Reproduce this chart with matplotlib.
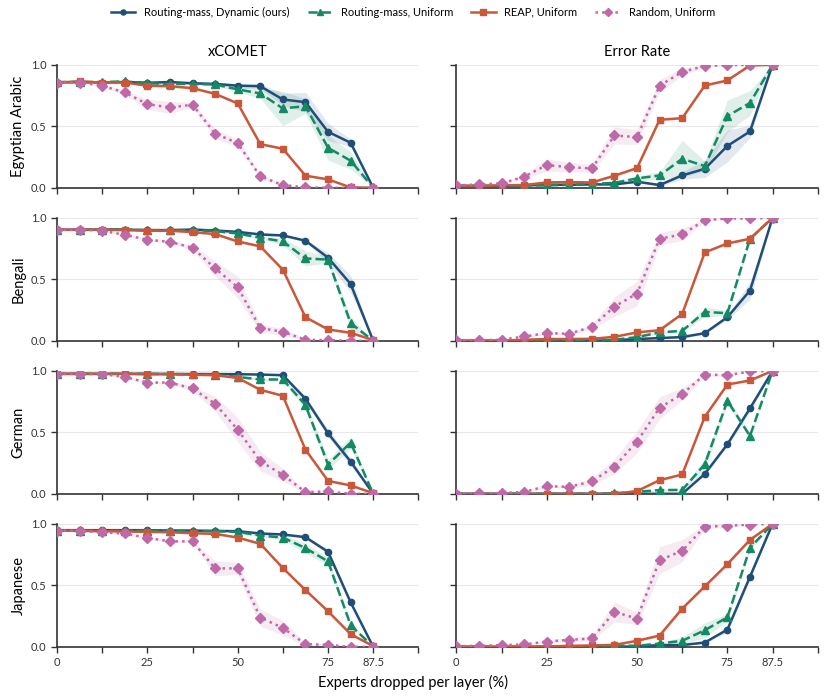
import numpy as np
import matplotlib
matplotlib.use('Agg')
import matplotlib.pyplot as plt

plt.rcParams['font.family'] = ['Lato', 'DejaVu Sans']

# experts dropped per layer (%)
x = np.arange(15) * 6.25

methods = ['Routing-mass, Dynamic (ours)', 'Routing-mass, Uniform', 'REAP, Uniform', 'Random, Uniform']
languages = ['Egyptian Arabic', 'Bengali', 'German', 'Japanese']
metrics = ['xCOMET', 'Error Rate']

# ---- Egyptian Arabic ----
ar_xcomet = [
   [0.856, 0.86, 0.856, 0.86, 0.854, 0.86, 0.85, 0.845, 0.83, 0.826, 0.718, 0.696, 0.455, 0.366, 0.0],
   [0.86, 0.86, 0.86, 0.865, 0.85, 0.845, 0.845, 0.84, 0.80, 0.767, 0.645, 0.664, 0.325, 0.22, 0.0],
   [0.856, 0.865, 0.856, 0.856, 0.83, 0.826, 0.81, 0.764, 0.686, 0.355, 0.317, 0.098, 0.068, 0.003, 0.0],
   [0.856, 0.856, 0.83, 0.775, 0.68, 0.653, 0.675, 0.44, 0.363, 0.092, 0.022, 0.003, 0.0, 0.0, 0.0],
]
ar_xcomet_sd = [
   [0, 0, 0, 0, 0, 0, 0.01, 0.01, 0.02, 0.02, 0.05, 0.08, 0.07, 0.03, 0],
   [0, 0, 0, 0.01, 0.01, 0.01, 0.01, 0.01, 0.02, 0.04, 0.14, 0.06, 0.1, 0.07, 0],
   [0, 0.01, 0, 0, 0.01, 0.01, 0.01, 0.01, 0.01, 0.01, 0.01, 0.01, 0.01, 0, 0],
   [0, 0, 0.01, 0.02, 0.04, 0.05, 0.02, 0.04, 0.03, 0.02, 0.01, 0, 0, 0, 0],
]
ar_err = [
   [0.016, 0.014, 0.014, 0.019, 0.024, 0.024, 0.027, 0.027, 0.049, 0.022, 0.10, 0.154, 0.34, 0.458, 1.0],
   [0.016, 0.014, 0.016, 0.019, 0.019, 0.024, 0.03, 0.04, 0.076, 0.10, 0.236, 0.176, 0.583, 0.69, 1.0],
   [0.016, 0.014, 0.02, 0.022, 0.043, 0.046, 0.043, 0.098, 0.16, 0.553, 0.566, 0.832, 0.873, 0.995, 1.0],
   [0.019, 0.027, 0.035, 0.09, 0.184, 0.168, 0.157, 0.425, 0.412, 0.83, 0.943, 0.99, 0.997, 1.0, 1.0],
]
ar_err_sd = [
   [0, 0, 0, 0, 0, 0, 0, 0, 0.01, 0.01, 0.03, 0.07, 0.13, 0.05, 0],
   [0, 0, 0, 0, 0, 0, 0.01, 0.01, 0.02, 0.03, 0.15, 0.04, 0.13, 0.1, 0],
   [0, 0, 0, 0, 0.01, 0.01, 0.01, 0.01, 0.01, 0.01, 0.01, 0.01, 0.01, 0, 0],
   [0, 0.01, 0.01, 0.02, 0.05, 0.04, 0.03, 0.07, 0.06, 0.05, 0.03, 0.01, 0, 0, 0],
]

# ---- Bengali ----
bn_xcomet = [
   [0.903, 0.903, 0.905, 0.905, 0.90, 0.90, 0.905, 0.897, 0.886, 0.865, 0.857, 0.814, 0.676, 0.462, 0.0],
   [0.903, 0.903, 0.905, 0.903, 0.90, 0.90, 0.90, 0.892, 0.873, 0.838, 0.808, 0.67, 0.66, 0.143, 0.0],
   [0.903, 0.903, 0.903, 0.90, 0.895, 0.895, 0.884, 0.868, 0.808, 0.768, 0.578, 0.192, 0.092, 0.065, 0.005],
   [0.903, 0.903, 0.895, 0.862, 0.822, 0.805, 0.757, 0.589, 0.435, 0.103, 0.073, 0.008, 0.005, 0.0, 0.0],
]
bn_xcomet_sd = [
   [0, 0, 0, 0, 0, 0, 0, 0, 0.01, 0.01, 0.01, 0.01, 0.04, 0.07, 0],
   [0, 0, 0, 0, 0, 0, 0, 0.01, 0.01, 0.01, 0.03, 0.06, 0.03, 0.05, 0],
   [0, 0, 0, 0, 0, 0, 0.01, 0.01, 0.01, 0.01, 0.01, 0.01, 0.01, 0.01, 0],
   [0, 0, 0, 0.01, 0.01, 0.01, 0.02, 0.06, 0.09, 0.03, 0.03, 0.01, 0, 0, 0],
]
bn_err = [
   [0.0, 0.0, 0.0, 0.0, 0.0, 0.0, 0.0, 0.005, 0.014, 0.022, 0.03, 0.062, 0.192, 0.408, 1.0],
   [0.0, 0.0, 0.0, 0.0, 0.0, 0.0, 0.002, 0.008, 0.03, 0.068, 0.081, 0.235, 0.224, 0.83, 1.0],
   [0.0, 0.0, 0.0, 0.008, 0.014, 0.014, 0.016, 0.032, 0.068, 0.086, 0.219, 0.719, 0.792, 0.83, 1.0],
   [0.005, 0.005, 0.008, 0.035, 0.062, 0.057, 0.114, 0.278, 0.384, 0.83, 0.865, 0.981, 0.995, 0.995, 1.0],
]
bn_err_sd = [
   [0, 0, 0, 0, 0, 0, 0, 0, 0, 0.01, 0.01, 0.01, 0.02, 0.07, 0],
   [0, 0, 0, 0, 0, 0, 0, 0, 0.01, 0.01, 0.01, 0.04, 0.02, 0.02, 0],
   [0, 0, 0, 0, 0, 0, 0, 0, 0.01, 0.01, 0.01, 0.01, 0.01, 0.01, 0],
   [0, 0, 0, 0.01, 0.01, 0.01, 0.02, 0.08, 0.1, 0.05, 0.05, 0.01, 0, 0, 0],
]

# ---- German ----
de_xcomet = [
   [0.976, 0.976, 0.976, 0.976, 0.976, 0.975, 0.974, 0.974, 0.973, 0.97, 0.965, 0.773, 0.492, 0.262, 0.0],
   [0.976, 0.976, 0.976, 0.976, 0.975, 0.974, 0.972, 0.968, 0.951, 0.93, 0.93, 0.722, 0.238, 0.416, 0.0],
   [0.976, 0.976, 0.976, 0.976, 0.973, 0.973, 0.968, 0.965, 0.943, 0.846, 0.797, 0.359, 0.105, 0.068, 0.005],
   [0.976, 0.976, 0.973, 0.951, 0.905, 0.905, 0.857, 0.732, 0.522, 0.265, 0.154, 0.014, 0.019, 0.0, 0.0],
]
de_xcomet_sd = [
   [0, 0, 0, 0, 0, 0, 0, 0, 0, 0, 0.01, 0.02, 0.03, 0.03, 0],
   [0, 0, 0, 0, 0, 0, 0, 0, 0.01, 0.01, 0.01, 0.04, 0.04, 0.05, 0],
   [0, 0, 0, 0, 0, 0, 0, 0.01, 0.01, 0.01, 0.01, 0.01, 0.01, 0.01, 0],
   [0, 0, 0, 0.01, 0.01, 0.01, 0.02, 0.06, 0.1, 0.08, 0.05, 0.01, 0.01, 0, 0],
]
de_err = [
   [0.0, 0.0, 0.0, 0.0, 0.0, 0.0, 0.0, 0.0, 0.0, 0.0, 0.0, 0.162, 0.403, 0.695, 1.0],
   [0.0, 0.0, 0.0, 0.0, 0.0, 0.0, 0.0, 0.005, 0.016, 0.03, 0.032, 0.24, 0.757, 0.47, 1.0],
   [0.0, 0.0, 0.0, 0.0, 0.0, 0.0, 0.0, 0.0, 0.022, 0.111, 0.157, 0.627, 0.889, 0.922, 1.0],
   [0.0, 0.005, 0.005, 0.016, 0.062, 0.057, 0.10, 0.222, 0.424, 0.70, 0.811, 0.97, 0.965, 0.995, 1.0],
]
de_err_sd = [
   [0, 0, 0, 0, 0, 0, 0, 0, 0, 0, 0, 0.01, 0.02, 0.03, 0],
   [0, 0, 0, 0, 0, 0, 0, 0, 0, 0.01, 0.01, 0.05, 0.03, 0.02, 0],
   [0, 0, 0, 0, 0, 0, 0, 0, 0.01, 0.01, 0.01, 0.01, 0.01, 0.01, 0],
   [0, 0, 0, 0.01, 0.01, 0.01, 0.03, 0.06, 0.09, 0.09, 0.05, 0.01, 0.01, 0, 0],
]

# ---- Japanese ----
ja_xcomet = [
   [0.949, 0.949, 0.949, 0.949, 0.949, 0.946, 0.946, 0.943, 0.941, 0.922, 0.914, 0.892, 0.773, 0.362, 0.0],
   [0.946, 0.946, 0.946, 0.946, 0.945, 0.944, 0.942, 0.94, 0.935, 0.905, 0.889, 0.803, 0.695, 0.176, 0.0],
   [0.946, 0.943, 0.941, 0.938, 0.935, 0.932, 0.924, 0.919, 0.889, 0.838, 0.641, 0.462, 0.289, 0.103, 0.005],
   [0.946, 0.943, 0.932, 0.922, 0.886, 0.859, 0.857, 0.638, 0.638, 0.238, 0.154, 0.022, 0.016, 0.0, 0.0],
]
ja_xcomet_sd = [
   [0, 0, 0, 0, 0, 0, 0, 0, 0, 0.01, 0.01, 0.01, 0.02, 0.02, 0],
   [0, 0, 0, 0, 0, 0, 0, 0, 0.01, 0.01, 0.02, 0.04, 0.03, 0.02, 0],
   [0, 0, 0, 0, 0, 0, 0, 0.01, 0.01, 0.01, 0.01, 0.01, 0.01, 0.01, 0],
   [0, 0, 0.01, 0.01, 0.01, 0.01, 0.01, 0.06, 0.05, 0.07, 0.06, 0.01, 0.01, 0, 0],
]
ja_err = [
   [0.0, 0.0, 0.0, 0.0, 0.0, 0.0, 0.0, 0.0, 0.003, 0.014, 0.014, 0.035, 0.14, 0.57, 1.0],
   [0.0, 0.0, 0.0, 0.0, 0.0, 0.0, 0.0, 0.011, 0.008, 0.027, 0.049, 0.135, 0.24, 0.805, 1.0],
   [0.0, 0.0, 0.0, 0.0, 0.003, 0.008, 0.011, 0.016, 0.049, 0.092, 0.311, 0.492, 0.673, 0.87, 1.0],
   [0.005, 0.008, 0.014, 0.019, 0.043, 0.057, 0.068, 0.284, 0.23, 0.705, 0.781, 0.978, 0.984, 0.995, 1.0],
]
ja_err_sd = [
   [0, 0, 0, 0, 0, 0, 0, 0, 0, 0, 0, 0.01, 0.02, 0.02, 0],
   [0, 0, 0, 0, 0, 0, 0, 0, 0.01, 0.01, 0.03, 0.06, 0.03, 0.02, 0],
   [0, 0, 0, 0, 0, 0, 0, 0.01, 0.01, 0.01, 0.01, 0.01, 0.01, 0.01, 0],
   [0, 0, 0.01, 0.01, 0.01, 0.02, 0.02, 0.08, 0.05, 0.11, 0.09, 0.02, 0.01, 0, 0],
]

panels = [
   [(ar_xcomet, ar_xcomet_sd), (ar_err, ar_err_sd)],
   [(bn_xcomet, bn_xcomet_sd), (bn_err, bn_err_sd)],
   [(de_xcomet, de_xcomet_sd), (de_err, de_err_sd)],
   [(ja_xcomet, ja_xcomet_sd), (ja_err, ja_err_sd)],
]

colors = ['#1f4e79', '#138a63', '#c9583a', '#bf69a8']
styles = ['-', '--', '-', ':']
markers = ['o', '^', 's', 'D']
msizes = [4.5, 5.5, 5, 5]

fig, axes = plt.subplots(4, 2, figsize=(8.26, 6.97), dpi=100, sharey=True)
fig.subplots_adjust(left=0.069, right=0.990, top=0.907, bottom=0.072, hspace=0.245, wspace=0.105)

for r in range(4):
   for c in range(2):
      ax = axes[r, c]
      vals, sds = panels[r][c]
      for m in range(4):
         y = np.array(vals[m])
         sd = np.array(sds[m])
         ax.fill_between(x, np.clip(y - sd, 0, 1), np.clip(y + sd, 0, 1),
                         color=colors[m], alpha=0.13, lw=0)
         ax.plot(x, y, ls=styles[m], color=colors[m], marker=markers[m],
                 ms=msizes[m], lw=1.8, label=methods[m], zorder=3)
      ax.set_xlim(0, 100)
      ax.set_ylim(0, 1)
      ax.set_xticks(np.arange(0, 101, 12.5))
      if r == 3:
         ax.set_xticklabels(['0', '', '25', '', '50', '', '75', '87.5', ''])
      else:
         ax.set_xticklabels([])
      ax.set_yticks([0, 0.5, 1.0])
      ax.set_yticklabels(['0.0', '0.5', '1.0'])
      ax.yaxis.grid(True, color='#e8e8e8', lw=0.8)
      ax.set_axisbelow(True)
      ax.spines['top'].set_visible(False)
      ax.spines['right'].set_visible(False)
      for s in ['left', 'bottom']:
         ax.spines[s].set_color('#333333')
         ax.spines[s].set_linewidth(1.2)
      ax.tick_params(axis='both', labelsize=8, colors='#333333', length=4, width=1.0)
      if c == 0:
         ax.set_ylabel(languages[r], fontsize=10.5)
      else:
         ax.tick_params(axis='y', labelleft=False)
      if r == 0:
         ax.set_title(metrics[c], fontsize=10.5, pad=6)

fig.supxlabel('Experts dropped per layer (%)', fontsize=10.5, x=0.5, y=0.01)

handles, labels = axes[0, 0].get_legend_handles_labels()
fig.legend(handles, labels, loc='upper center', ncol=4, frameon=False, fontsize=8,
           bbox_to_anchor=(0.5, 1.005), handlelength=2.2, columnspacing=1.6, markerscale=0.8)

fig.savefig('out.png', dpi=100)
